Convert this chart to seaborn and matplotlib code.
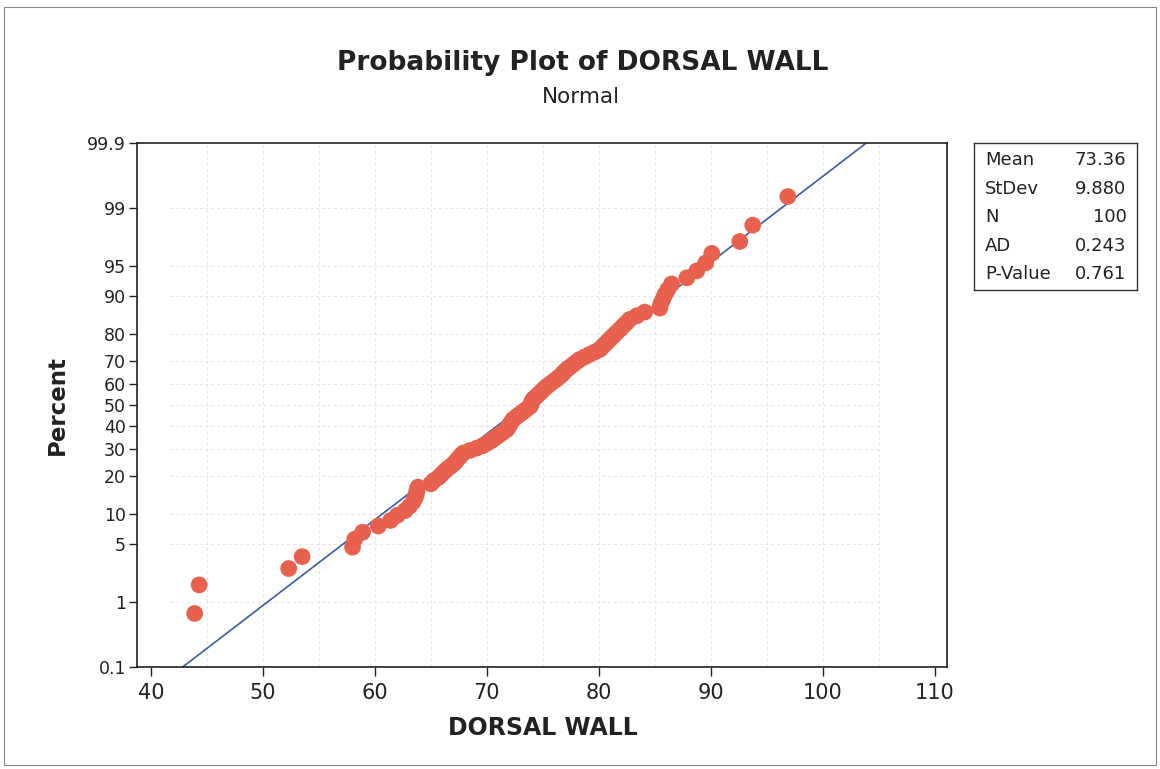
import numpy as np
import pandas as pd
import matplotlib
matplotlib.use("Agg")
import matplotlib.pyplot as plt
import seaborn as sns
from statistics import NormalDist

# ---- data ----
dorsal_wall = [
    43.9, 44.3, 52.3, 53.5, 58.0, 58.2, 58.9, 60.3, 61.4, 62.0,
    62.7, 63.1, 63.4, 63.6, 63.7, 63.75, 63.85, 65.0, 65.27, 65.67,
    65.94, 66.2, 66.47, 66.8, 67.1, 67.28, 67.48, 67.68, 67.9, 68.48,
    69.1, 69.64, 70.0, 70.36, 70.63, 70.93, 71.2, 71.48, 71.76, 71.9,
    72.0, 72.13, 72.24, 72.4, 72.65, 72.9, 73.16, 73.4, 73.65, 73.89,
    73.94, 74.02, 74.1, 74.3, 74.5, 74.7, 74.9, 75.1, 75.3, 75.56,
    75.8, 76.08, 76.33, 76.57, 76.77, 76.97, 77.19, 77.46, 77.73, 78.0,
    78.28, 78.73, 79.16, 79.63, 80.09, 80.32, 80.56, 80.81, 81.06, 81.33,
    81.59, 81.88, 82.16, 82.46, 82.76, 83.39, 84.1, 85.45, 85.54, 85.71,
    85.9, 86.16, 86.5, 87.86, 88.75, 89.55, 90.09, 92.59, 93.75, 96.88,
]
MEAN = 73.36
STDEV = 9.880
stat_labels = ["Mean", "StDev", "N", "AD", "P-Value"]
stat_values = ["73.36", "9.880", "100", "0.243", "0.761"]
y_ticks = [0.1, 1, 5, 10, 20, 30, 40, 50, 60, 70, 80, 90, 95, 99, 99.9]
y_tick_labels = ["0.1", "1", "5", "10", "20", "30", "40", "50", "60", "70",
                 "80", "90", "95", "99", "99.9"]
x_ticks = [40, 50, 60, 70, 80, 90, 100, 110]
x_grid = [45, 50, 55, 60, 65, 70, 75, 80, 85, 90, 95, 100, 105]

# ---- probability scale helpers ----
_nd = NormalDist()


def _fwd(p):
    p = np.asarray(p, dtype=float)
    q = np.clip(p / 100.0, 1e-12, 1 - 1e-12)
    out = np.array([_nd.inv_cdf(float(v)) for v in q.ravel()])
    return out.reshape(q.shape)


def _inv(z):
    z = np.asarray(z, dtype=float)
    out = np.array([_nd.cdf(float(v)) for v in z.ravel()]) * 100.0
    return out.reshape(z.shape)


sns.set_theme(style="white")
plt.rcParams["font.family"] = ["DejaVu Sans"]

W, H = 1160, 769
fig = plt.figure(figsize=(W / 100, H / 100), dpi=100)
fig.patch.set_facecolor("white")

# plotting positions (Benard median ranks, as Minitab)
xs = np.sort(np.asarray(dorsal_wall, dtype=float))
n = len(xs)
ranks = np.arange(1, n + 1)
pct = (ranks - 0.3) / (n + 0.4) * 100.0
df = pd.DataFrame({"DORSAL WALL": xs, "Percent": pct})

ax = fig.add_axes([137 / W, 1 - 667 / H, 810 / W, 524 / H])
ax.set_yscale("function", functions=(_fwd, _inv))
ax.set_xlim(38.75, 111.1)
ax.set_ylim(0.1, 99.9)

# grid (Minitab style, light dashed)
grid_kw = dict(color="#e4e4e4", linestyle=(0, (3, 3)), linewidth=0.7, zorder=0)
ax.hlines(y_ticks[1:-1], 41.7, 105.2, **grid_kw)
ax.vlines(x_grid, 0.1, 99.9, **grid_kw)

# fitted line
fit_p = np.array([0.1, 0.5, 1, 5, 10, 30, 50, 70, 90, 95, 99, 99.5, 99.9])
fit_x = MEAN + STDEV * _fwd(fit_p)
ax.plot(fit_x, fit_p, color="#3b5ba8", linewidth=1.2, zorder=2)

sns.scatterplot(data=df, x="DORSAL WALL", y="Percent", ax=ax, s=145,
                color="#e8614e", edgecolor="none", linewidth=0, zorder=3,
                legend=False)

ax.set_yticks(y_ticks)
ax.set_yticklabels(y_tick_labels)
ax.yaxis.set_minor_locator(matplotlib.ticker.NullLocator())
ax.set_xticks(x_ticks)
ax.set_xticklabels([str(v) for v in x_ticks])
ax.set_xlabel("")
ax.set_ylabel("")
ax.tick_params(axis="y", direction="out", length=6, width=1.0, pad=2,
               labelsize=12.5, left=True, colors="#222222")
ax.tick_params(axis="x", direction="out", length=6.5, width=1.0, pad=5,
               labelsize=15, bottom=True, colors="#222222")
for sp in ax.spines.values():
    sp.set_visible(True)
    sp.set_color("#222222")
    sp.set_linewidth(1.2)

# titles and labels
fig.text(583 / W, 1 - 63 / H, "Probability Plot of DORSAL WALL", ha="center",
         va="center", fontsize=19, fontweight="bold", color="#222222")
fig.text(581 / W, 1 - 97 / H, "Normal", ha="center", va="center",
         fontsize=15.5, color="#222222")
fig.text(57 / W, 1 - 405 / H, "Percent", ha="center", va="center",
         rotation=90, fontsize=16.5, fontweight="bold", color="#222222")
fig.text(543 / W, 1 - 728 / H, "DORSAL WALL", ha="center", va="center",
         fontsize=17, fontweight="bold", color="#222222")

# statistics box
bx = fig.add_axes([974 / W, 1 - 290 / H, 163 / W, 147 / H])
bx.set_xticks([])
bx.set_yticks([])
for sp in bx.spines.values():
    sp.set_visible(True)
    sp.set_color("#333333")
    sp.set_linewidth(1.0)
row_y = [160, 189, 217, 246, 274]
for lab, val, yy in zip(stat_labels, stat_values, row_y):
    fy = (290 - yy) / 147
    bx.text(0.067, fy, lab, ha="left", va="center", fontsize=13,
            color="#222222", transform=bx.transAxes)
    bx.text(0.935, fy, val, ha="right", va="center", fontsize=13,
            color="#222222", transform=bx.transAxes)

# thin outer frame
fig.patches.append(matplotlib.patches.Rectangle(
    (4 / W, 4 / H), 1 - 8 / W, 1 - 11 / H, transform=fig.transFigure,
    fill=False, edgecolor="#888888", linewidth=0.8))

fig.savefig("out.png", dpi=100, facecolor="white")
